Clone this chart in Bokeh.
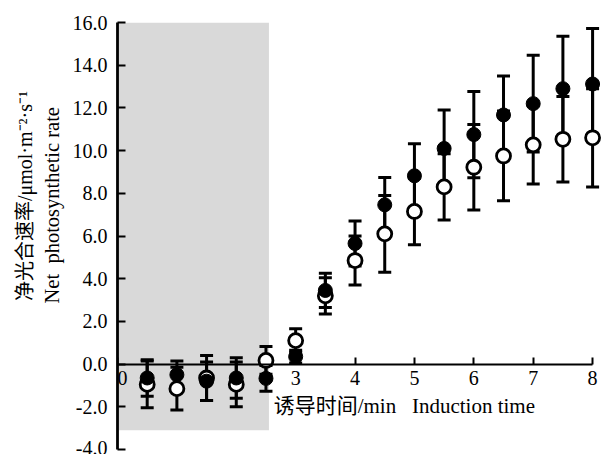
import math
from bokeh.plotting import figure
from bokeh.models import (Range1d, FixedTicker, ColumnDataSource, Whisker, TeeHead,
                          Label, PrintfTickFormatter, Title)
from bokeh.embed import file_html
from bokeh.resources import INLINE

# ---- data ----
times = [0.5, 1.0, 1.5, 2.0, 2.5, 3.0, 3.5, 4.0, 4.5, 5.0, 5.5, 6.0, 6.5, 7.0, 7.5, 8.0]
filled_mean = [-0.65, -0.50, -0.80, -0.65, -0.67, 0.35, 3.45, 5.65, 7.46, 8.82, 10.10, 10.75, 11.67, 12.20, 12.90, 13.12]
filled_err = [0.85, 0.65, 0.90, 0.95, 0.60, 0.30, 0.80, 1.05, 1.28, 1.50, 1.80, 2.02, 1.82, 2.27, 2.46, 2.60]
open_mean = [-0.95, -1.15, -0.65, -0.95, 0.17, 1.10, 3.20, 4.85, 6.10, 7.15, 8.30, 9.22, 9.75, 10.27, 10.53, 10.60]
open_err = [1.10, 1.00, 1.05, 1.05, 0.65, 0.55, 0.85, 1.15, 1.80, 1.56, 1.55, 2.00, 2.10, 1.83, 2.00, 2.30]
x_tick_values = [0, 3, 4, 5, 6, 7, 8]
y_tick_values = [-4, -2, 0, 2, 4, 6, 8, 10, 12, 14, 16]
dark_start, dark_end = 0.0, 2.55
dark_bottom, dark_top = -3.1, 16.0

NB = "\u00a0"
y_label_cn = "净光合速率/μmol·m⁻²·s⁻¹"
y_label_en = "Net" + NB + NB + "photosynthetic rate"
x_label = "诱导时间/min" + NB * 3 + "Induction time"

SERIF = "Liberation Serif, Noto Sans CJK SC"

p = figure(width=601, height=454, output_backend="svg", toolbar_location=None,
           x_range=Range1d(0, 8.15), y_range=Range1d(-4, 16),
           min_border_left=117, min_border_right=0, min_border_top=22, min_border_bottom=5)
p.grid.visible = False
p.outline_line_color = None
p.background_fill_color = "white"
p.border_fill_color = "white"

# dark period shading
q = p.quad(left=[dark_start], right=[dark_end], bottom=[dark_bottom], top=[dark_top],
           fill_color="#d9d9d9", line_color=None)
q.level = "image"

# error bars
def whisk(mean, err):
    src = ColumnDataSource(dict(x=times,
                                upper=[m + e for m, e in zip(mean, err)],
                                lower=[m - e for m, e in zip(mean, err)]))
    w = Whisker(source=src, base="x", upper="upper", lower="lower", dimension="height",
                line_color="black", line_width=3,
                upper_head=TeeHead(size=13, line_width=3, line_color="black"),
                lower_head=TeeHead(size=13, line_width=3, line_color="black"))
    p.add_layout(w)

whisk(open_mean, open_err)
whisk(filled_mean, filled_err)

p.scatter(times, open_mean, size=14, fill_color="white", line_color="black", line_width=2.8)
p.scatter(times, filled_mean, size=14, fill_color="black", line_color="black", line_width=1)

# x axis at y = 0
xa = p.xaxis[0]
xa.fixed_location = 0
xa.bounds = (0, 8)
xa.ticker = FixedTicker(ticks=x_tick_values)
xa.major_label_overrides = {0: NB + NB + "0"}
xa.minor_tick_line_color = None
xa.major_tick_in = 7
xa.major_tick_out = 0
xa.major_tick_line_width = 2
xa.axis_line_width = 2.2
xa.major_label_standoff = 3
xa.major_label_text_font = SERIF
xa.major_label_text_font_size = "20px"
xa.major_label_text_color = "black"

ya = p.yaxis[0]
ya.ticker = FixedTicker(ticks=y_tick_values)
ya.formatter = PrintfTickFormatter(format="%.1f")
ya.minor_tick_line_color = None
ya.major_tick_in = 8
ya.major_tick_out = 0
ya.major_tick_line_width = 2
ya.axis_line_width = 2.8
ya.major_label_standoff = 10
ya.major_label_text_font = SERIF
ya.major_label_text_font_size = "20px"
ya.major_label_text_color = "black"
# leading blanks shift the (bottom-to-top) label upward, as in the reference
ya.axis_label = NB * 12 + y_label_en
ya.axis_label_text_font = SERIF
ya.axis_label_text_font_size = "20.5px"
ya.axis_label_text_font_style = "normal"
ya.axis_label_text_color = "black"
ya.axis_label_standoff = 7

p.add_layout(Title(text=NB * 16 + y_label_cn, align="center", text_font=SERIF,
                   text_font_size="20px", text_font_style="normal", text_color="black",
                   standoff=3, offset=5), "left")

p.add_layout(Label(x=2.63, y=-1.95, text=x_label, text_align="left", text_baseline="middle",
                   text_font=SERIF, text_font_size="21px", text_color="black"))

open("out.html", "w").write(file_html(p, INLINE))
